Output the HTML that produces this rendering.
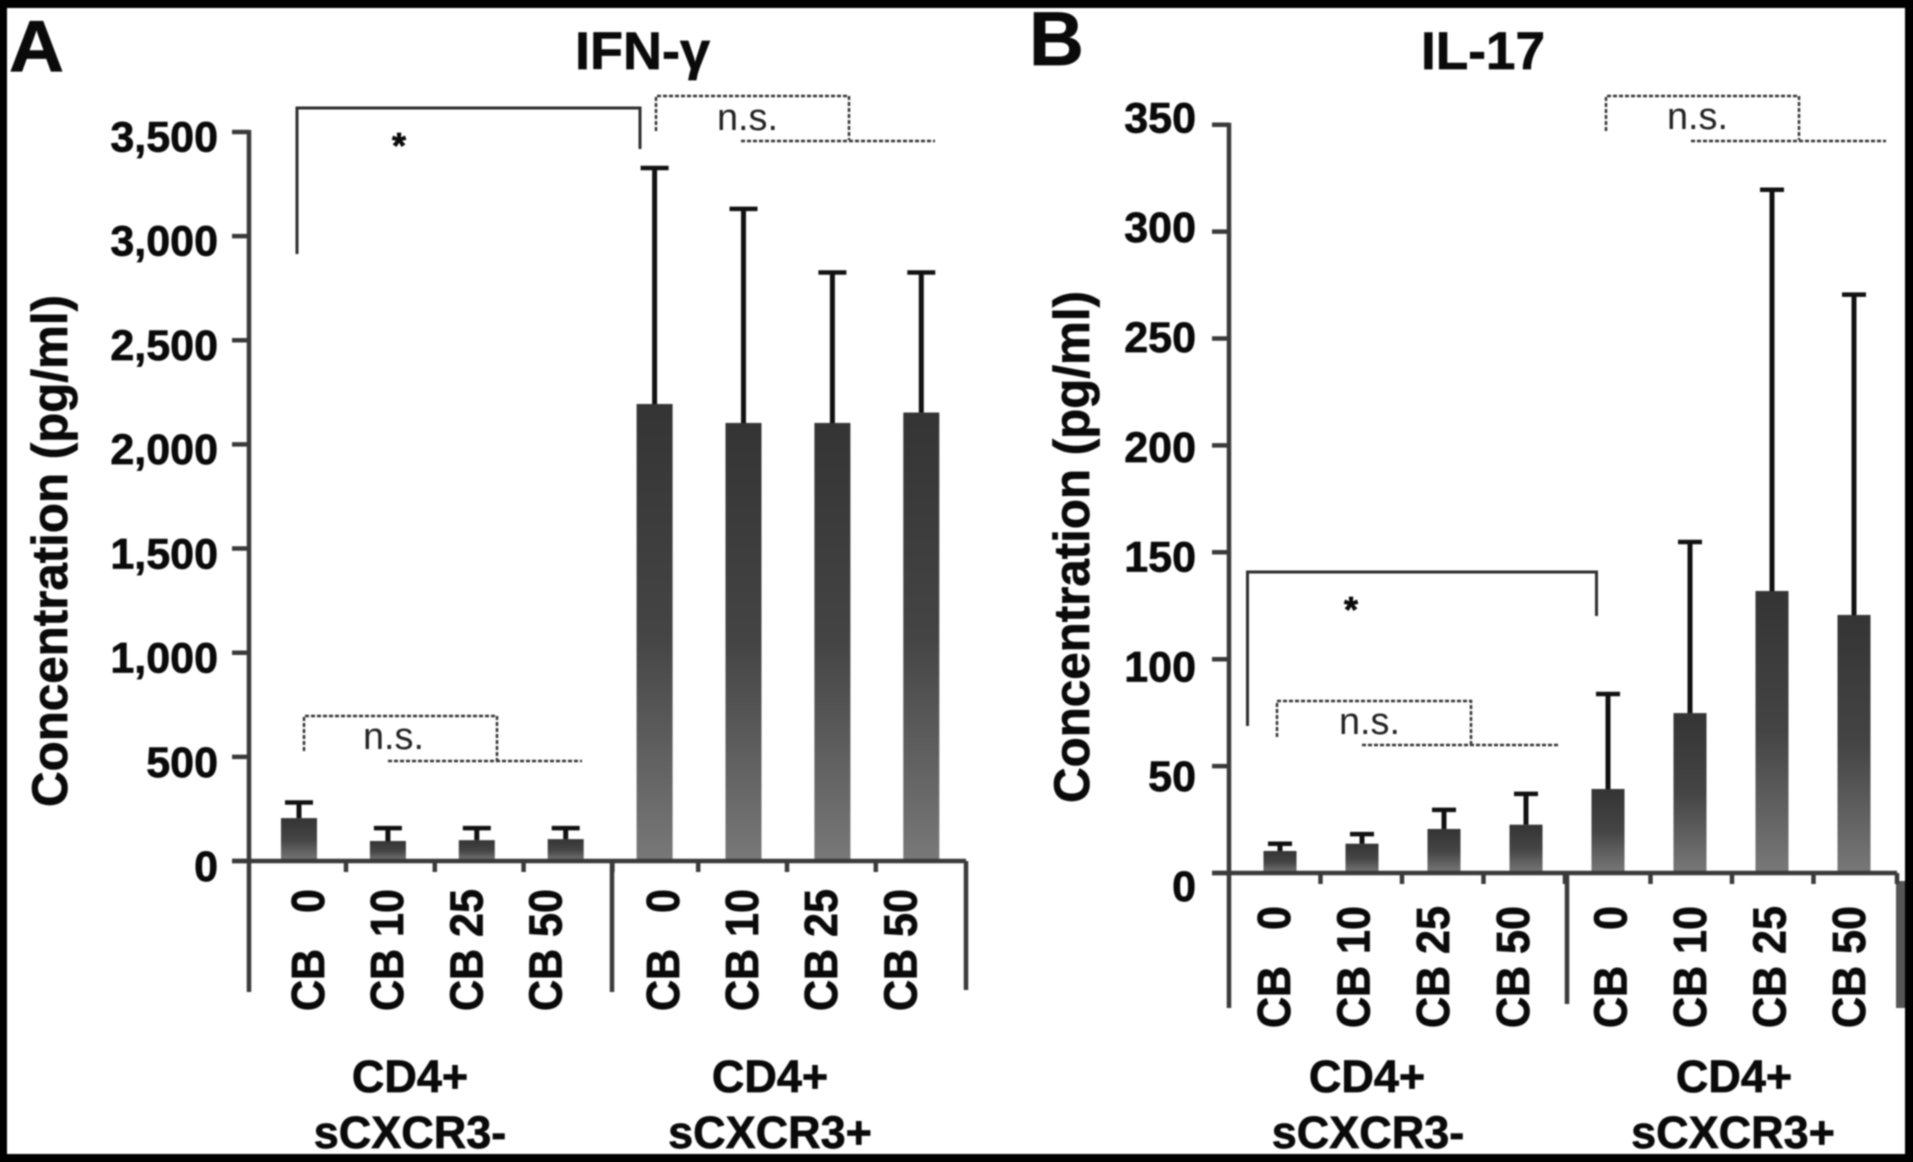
<!DOCTYPE html>
<html lang="en">
<head>
<meta charset="utf-8">
<title>IFN-γ and IL-17 concentration</title>
<style>
  html, body { margin: 0; padding: 0; background: #000; width: 1913px; height: 1162px; overflow: hidden; }
  #chart { display: block; filter: blur(0.7px); }
  text { font-family: "Liberation Sans", sans-serif; fill: #0a0a0a; }
  .bold { font-weight: 700; stroke: #0a0a0a; stroke-width: 0.7; }
  .thin { font-weight: 400; fill: #222; font-size: 38px; }
  .solid { fill: none; stroke: #2e2e2e; stroke-width: 3; }
  .dash { fill: none; stroke: #333; stroke-width: 2.5; stroke-dasharray: 4 2; }
</style>
</head>
<body>
<svg id="chart" width="1913" height="1162" viewBox="0 0 1913 1162" xmlns="http://www.w3.org/2000/svg">
  <defs>
    <linearGradient id="barFill" x1="0" y1="0" x2="0" y2="1">
      <stop offset="0" stop-color="#343434"/>
      <stop offset="0.5" stop-color="#444"/>
      <stop offset="1" stop-color="#787878"/>
    </linearGradient>
  </defs>
  <rect x="7" y="8" width="1898" height="1146" fill="#fff"/>

  <g>
    <text class="bold" x="9" y="71" font-size="72" textLength="55" lengthAdjust="spacingAndGlyphs">A</text>
    <text class="bold" x="575" y="69" font-size="53" textLength="135" lengthAdjust="spacingAndGlyphs">IFN-γ</text>
    <path class="solid" d="M297 254V108H640V149"/>
    <text class="bold" x="399" y="158" font-size="36" text-anchor="middle">*</text>
    <path class="dash" d="M656 131V96H849V140"/>
    <path class="dash" d="M741 141H935"/>
    <text class="thin" x="717" y="130" textLength="61" lengthAdjust="spacingAndGlyphs">n.s.</text>
    <path class="dash" d="M304 751V716H497V761"/>
    <path class="dash" d="M388 761H582"/>
    <text class="thin" x="363" y="749" textLength="61" lengthAdjust="spacingAndGlyphs">n.s.</text>
    <text class="bold" font-size="50" text-anchor="middle" textLength="512" lengthAdjust="spacingAndGlyphs" transform="translate(67 551) rotate(-90)">Concentration (pg/ml)</text>
    <text class="bold" x="410" y="1092" font-size="45" text-anchor="middle">CD4+</text>
    <text class="bold" x="410" y="1148" font-size="45" text-anchor="middle">sCXCR3-</text>
    <text class="bold" x="770" y="1092" font-size="45" text-anchor="middle">CD4+</text>
    <text class="bold" x="770" y="1148" font-size="45" text-anchor="middle">sCXCR3+</text>
  </g>

  <g>
    <text class="bold" x="1029" y="65" font-size="76">B</text>
    <text class="bold" x="1421" y="69" font-size="53" textLength="124" lengthAdjust="spacingAndGlyphs">IL-17</text>
    <path class="solid" d="M1247.5 726V572H1596.5V616"/>
    <text class="bold" x="1351" y="622" font-size="36" text-anchor="middle">*</text>
    <path class="dash" d="M1606 131V96H1799V140"/>
    <path class="dash" d="M1691 141H1886"/>
    <text class="thin" x="1667" y="129" textLength="61" lengthAdjust="spacingAndGlyphs">n.s.</text>
    <path class="dash" d="M1277 737V701H1471V745"/>
    <path class="dash" d="M1362 745H1558"/>
    <text class="thin" x="1339" y="734" textLength="61" lengthAdjust="spacingAndGlyphs">n.s.</text>
    <text class="bold" font-size="50" text-anchor="middle" textLength="512" lengthAdjust="spacingAndGlyphs" transform="translate(1089 547) rotate(-90)">Concentration (pg/ml)</text>
    <text class="bold" x="1367" y="1092" font-size="45" text-anchor="middle">CD4+</text>
    <text class="bold" x="1368" y="1148" font-size="45" text-anchor="middle">sCXCR3-</text>
    <text class="bold" x="1734" y="1092" font-size="45" text-anchor="middle">CD4+</text>
    <text class="bold" x="1733" y="1148" font-size="45" text-anchor="middle">sCXCR3+</text>
    <rect x="1896" y="881" width="9" height="127" fill="#555"/>
  </g>

  <g id="panelA"></g>
  <g id="panelB"></g>
</svg>

<script>
const categories = ['CB\u00a0\u00a0\u00a00', 'CB 10', 'CB 25', 'CB 50', 'CB\u00a0\u00a0\u00a00', 'CB 10', 'CB 25', 'CB 50'];

const ifnValues = [206, 96, 100, 105, 2194, 2103, 2103, 2153];
const ifnErrorTops = [281, 158, 158, 158, 3327, 3131, 2825, 2825];
const ifnTicks = [0, 500, 1000, 1500, 2000, 2500, 3000, 3500];
const ifnTickLabels = ['0', '500', '1,000', '1,500', '2,000', '2,500', '3,000', '3,500'];

const il17Values = [10.3, 13.7, 20.6, 22.6, 39.3, 74.8, 131.9, 120.7];
const il17ErrorTops = [13.7, 18.2, 29.5, 37, 83.7, 154.8, 319.6, 270.5];
const il17Ticks = [0, 50, 100, 150, 200, 250, 300, 350];
const il17TickLabels = ['0', '50', '100', '150', '200', '250', '300', '350'];

const SVG_NS = 'http://www.w3.org/2000/svg';

function make(parent, tag, attrs) {
  const el = document.createElementNS(SVG_NS, tag);
  for (const k in attrs) el.setAttribute(k, attrs[k]);
  parent.appendChild(el);
  return el;
}

function drawPanel(root, values, errorTops, ticks, tickLabels, cfg) {
  const y = v => cfg.y0 - v * cfg.pxPerUnit;
  const labelY = v => cfg.labelY0 - v * cfg.labelPxPerUnit;
  const x = i => cfg.x0 + cfg.step * i;
  const axisStyle = { stroke: '#3a3a3a', 'stroke-width': 4.5, fill: 'none' };

  values.forEach((v, i) => {
    const bar = make(root, 'rect', { x: x(i) - cfg.barW / 2, y: y(v), width: cfg.barW, height: cfg.y0 - y(v), fill: 'url(#barFill)' });
    
    
    const top = y(errorTops[i]);
    const stem = make(root, 'line', { x1: x(i), x2: x(i), y1: y(v), y2: top, stroke: '#111', 'stroke-width': 5 });
    
    
    const cap = make(root, 'line', { x1: x(i) - cfg.capHalf, x2: x(i) + cfg.capHalf, y1: top, y2: top, stroke: '#111', 'stroke-width': 4.5 });
    
    
  });

  const yAxis = make(root, 'line', Object.assign({ x1: cfg.axisX, x2: cfg.axisX, y1: y(ticks[ticks.length - 1]) - 2, y2: cfg.axisBottom }, axisStyle));
  
  
  const xAxis = make(root, 'line', Object.assign({ x1: cfg.axisX - 17, x2: cfg.endX, y1: cfg.y0, y2: cfg.y0 }, axisStyle));
  
  
  const divider = make(root, 'line', Object.assign({ x1: cfg.dividerX, x2: cfg.dividerX, y1: cfg.y0, y2: cfg.dividerBottom }, axisStyle));
  
  
  const endLine = make(root, 'line', Object.assign({ x1: cfg.endX, x2: cfg.endX, y1: cfg.y0, y2: cfg.endBottom }, axisStyle));
  
  

  ticks.forEach((t, i) => {
    const mark = make(root, 'line', Object.assign({ x1: cfg.axisX - 17, x2: cfg.axisX, y1: y(t), y2: y(t) }, axisStyle));
    
    
    const label = make(root, 'text', { x: cfg.labelRight, y: labelY(t), 'text-anchor': 'end', 'font-size': 43, class: 'bold' });
    
    
    label.textContent = tickLabels[i];
  });

  categories.forEach((c, i) => {
    if (i < categories.length - 1) {
      const tickX = cfg.tickX0 + i * cfg.tickStep + (i >= 4 ? cfg.tickJump : 0);
      const mark = make(root, 'line', Object.assign({ x1: tickX, x2: tickX, y1: cfg.y0, y2: cfg.y0 + 11 }, axisStyle));
      
      
    }
    const bx = cfg.catX0 + i * cfg.catStep + (i >= 4 ? cfg.catJump : 0);
    const label = make(root, 'text', { transform: 'translate(' + bx + ' ' + cfg.catBottom + ') rotate(-90) scale(1 1.08)', 'font-size': 43, class: 'bold' });
    
    
    label.textContent = c;
  });
}

drawPanel(document.getElementById('panelA'), ifnValues, ifnErrorTops, ifnTicks, ifnTickLabels, {
  y0: 861, pxPerUnit: 0.2083, labelY0: 881, labelPxPerUnit: 0.2085,
  x0: 299, step: 88.9, barW: 36, capHalf: 14,
  axisX: 249, axisBottom: 992, endX: 966, endBottom: 990, dividerX: 612, dividerBottom: 992,
  labelRight: 218, tickX0: 346, tickStep: 88.8, tickJump: -3,
  catX0: 324, catStep: 79.2, catJump: 38, catBottom: 1011
});

drawPanel(document.getElementById('panelB'), il17Values, il17ErrorTops, il17Ticks, il17TickLabels, {
  y0: 873, pxPerUnit: 2.138, labelY0: 901, labelPxPerUnit: 2.196,
  x0: 1280, step: 82, barW: 33, capHalf: 12,
  axisX: 1229, axisBottom: 1008, endX: 1897, endBottom: 884, dividerX: 1567, dividerBottom: 1004,
  labelRight: 1196, tickX0: 1320.5, tickStep: 81.5, tickJump: 4,
  catX0: 1290, catStep: 79.6, catJump: 18, catBottom: 1028
});
</script>
</body>
</html>
